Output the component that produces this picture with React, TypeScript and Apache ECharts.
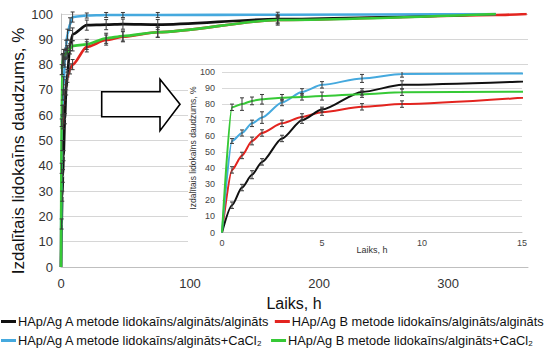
import React, { useEffect, useRef } from "react";
import * as echarts from "echarts";

// ---- data ----
const timesH = [0, 0.5, 1, 1.5, 2, 3, 4, 5, 7, 9, 20, 35, 48, 75, 168, 337];
const redExtraTime = 361;

const blackVals = [0, 17, 28, 36, 44, 58.6, 70, 76.6, 87.6, 92, 95.6, 95.8, 96, 95.8, 98, 100];
const blackErr = [0, 2, 2, 2.5, 2, 2, 2, 1.5, 2, 2.5, 2, 2, 2, 2, 1.5, 0];
const redVals = [0, 39, 48, 57, 62, 68, 72, 75, 78.3, 80, 87, 89.7, 91, 92.8, 97.6, 99.6, 100];
const redErr = [0, 2, 2, 2.4, 2, 2, 2, 2, 2, 2, 2, 2, 2, 2, 1.5, 0, 0];
const blueVals = [0, 57, 62, 68, 71.6, 81, 87.6, 92, 96, 98.8, 99.4, 99.6, 99.6, 99.6, 99.7, 100];
const blueErr = [0, 1.5, 1.9, 2, 3.6, 2, 2, 2, 2.5, 2, 1, 1, 1, 1, 1, 0];
const greenVals = [0, 78, 80, 82, 83, 84, 84.5, 85, 86.2, 87.4, 88, 90.4, 91.3, 92.8, 97.6, 100];
const greenErr = [0, 2, 3.9, 2.4, 3, 2, 2, 2.5, 2, 2, 2, 2, 2, 2, 2, 0];

const yTicks = [0, 10, 20, 30, 40, 50, 60, 70, 80, 90, 100];

const names = [
  "HAp/Ag A metode lidokaīns/algināts/algināts",
  "HAp/Ag B metode lidokaīns/algināts/algināts",
  "HAp/Ag A metode lidokaīns/algināts+CaCl₂",
  "HAp/Ag B metode lidokaīns/algināts+CaCl₂",
];
const colors = ["#111111", "#e3241f", "#45a9de", "#36c936"];

const FONT = "Liberation Sans, Arial, sans-serif";

export default function App() {
  const ref = useRef<HTMLDivElement>(null);

  useEffect(() => {
    if (!ref.current) return;
    const chart = echarts.init(ref.current, undefined, { renderer: "svg" });

    const redTimes = [...timesH, redExtraTime];
    const seriesDefs = [
      { name: names[0], t: timesH, v: blackVals, e: blackErr, c: colors[0] },
      { name: names[1], t: redTimes, v: redVals, e: redErr, c: colors[1] },
      { name: names[2], t: timesH, v: blueVals, e: blueErr, c: colors[2] },
      { name: names[3], t: timesH, v: greenVals, e: greenErr, c: colors[3] },
    ];
    const order = [1, 0, 2, 3];

    const errRender = (cap: number) => (params: any, api: any) => {
      const x = api.value(0);
      const lo = api.value(1);
      const hi = api.value(2);
      const p1 = api.coord([x, hi]);
      const p2 = api.coord([x, lo]);
      const st = { stroke: "#3a3a3a", lineWidth: 1 };
      return {
        type: "group",
        children: [
          { type: "line", shape: { x1: p1[0], y1: p1[1], x2: p2[0], y2: p2[1] }, style: st },
          { type: "line", shape: { x1: p1[0] - cap, y1: p1[1], x2: p1[0] + cap, y2: p1[1] }, style: st },
          { type: "line", shape: { x1: p2[0] - cap, y1: p2[1], x2: p2[0] + cap, y2: p2[1] }, style: st },
        ],
      };
    };

    const series: any[] = [];
    order.forEach((i) => {
      const d = seriesDefs[i];
      series.push({
        type: "line",
        name: d.name,
        xAxisIndex: 0,
        yAxisIndex: 0,
        data: d.t.map((t, k) => [t, d.v[k]]),
        smooth: 0.25,
        smoothMonotone: "x",
        symbol: "none",
        lineStyle: { color: d.c, width: 2.6 },
        itemStyle: { color: d.c },
        z: 2,
      });
      series.push({
        type: "custom",
        name: d.name + "-err",
        xAxisIndex: 0,
        yAxisIndex: 0,
        data: d.t
          .map((t, k) => [t, d.v[k] - d.e[k], d.v[k] + d.e[k]])
          .filter((r, k) => d.e[k] > 0),
        renderItem: errRender(2),
        z: 3,
        silent: true,
      });
    });
    order.forEach((i) => {
      const d = seriesDefs[i];
      series.push({
        type: "line",
        name: d.name,
        xAxisIndex: 1,
        yAxisIndex: 1,
        data: d.t.map((t, k) => [t, d.v[k]]),
        smooth: 0.25,
        smoothMonotone: "x",
        symbol: "none",
        clip: true,
        lineStyle: { color: d.c, width: 2 },
        itemStyle: { color: d.c },
        z: 20,
      });
      series.push({
        type: "custom",
        name: d.name + "-ierr",
        xAxisIndex: 1,
        yAxisIndex: 1,
        clip: true,
        data: d.t
          .map((t, k) => [t, d.v[k] - d.e[k], d.v[k] + d.e[k]])
          .filter((r, k) => d.e[k] > 0 && r[0] <= 15),
        renderItem: errRender(2),
        z: 21,
        silent: true,
      });
    });

    const legendText = { fontSize: 12.8, color: "#111", fontFamily: FONT, padding: [0, 0, 0, -3] };

    const option: any = {
      animation: false,
      backgroundColor: "#ffffff",
      textStyle: { fontFamily: FONT },
      grid: [
        { left: 61, right: 20, top: 14, bottom: 82, containLabel: false },
        { left: 222, right: 26, top: 72, bottom: 116.5, containLabel: false },
      ],
      xAxis: [
        {
          type: "value",
          gridIndex: 0,
          min: 0,
          max: 362,
          interval: 100,
          axisLine: { show: true, lineStyle: { color: "#bfbfbf" } },
          axisTick: { show: false },
          splitLine: { show: false },
          axisLabel: {
            showMaxLabel: false,
            fontSize: 13,
            color: "#333",
            margin: 10,
            fontFamily: FONT,
            formatter: (v: number) => (v % 100 === 0 ? String(v) : ""),
          },
          z: 1,
        },
        {
          type: "value",
          gridIndex: 1,
          min: 0,
          max: 15,
          interval: 5,
          axisLine: { show: true, lineStyle: { color: "#c8c8c8" } },
          axisTick: { show: false },
          splitLine: { show: false },
          axisLabel: { fontSize: 9, color: "#444", margin: 6, fontFamily: FONT },
          z: 15,
        },
      ],
      yAxis: [
        {
          type: "value",
          gridIndex: 0,
          min: yTicks[0],
          max: yTicks[yTicks.length - 1],
          interval: 10,
          axisLine: { show: true, lineStyle: { color: "#bfbfbf" } },
          axisTick: { show: false },
          splitLine: { show: true, lineStyle: { color: "#d6d6d6", width: 1 } },
          axisLabel: { fontSize: 13, color: "#333", margin: 8, fontFamily: FONT },
          z: 1,
        },
        {
          type: "value",
          gridIndex: 1,
          min: yTicks[0],
          max: yTicks[yTicks.length - 1],
          interval: 10,
          axisLine: { show: false },
          axisTick: { show: false },
          splitLine: { show: true, lineStyle: { color: "#d9d9d9", width: 1 } },
          axisLabel: { fontSize: 9, color: "#444", margin: 7, fontFamily: FONT },
          z: 15,
        },
      ],
      legend: [
        {
          data: [names[0], names[1]],
          left: 1,
          top: 315,
          itemGap: 5,
          itemWidth: 15,
          itemHeight: 3,
          icon: "rect",
          textStyle: legendText,
          padding: 0,
        },
        {
          data: [names[2], names[3]],
          left: 1,
          top: 334,
          itemGap: 8,
          itemWidth: 15,
          itemHeight: 3,
          icon: "rect",
          textStyle: legendText,
          padding: 0,
        },
      ],
      graphic: [
        {
          type: "rect",
          shape: { x: 188, y: 65, width: 360, height: 193 },
          style: { fill: "#ffffff" },
          z: 10,
          silent: true,
        },
        {
          type: "polygon",
          shape: {
            points: [
              [101.7, 91.7],
              [160, 91.7],
              [160, 79.3],
              [180, 104.3],
              [160, 130.7],
              [160, 116.7],
              [101.7, 116.7],
            ],
          },
          style: { fill: "#ffffff", stroke: "#000000", lineWidth: 1.6 },
          z: 12,
        },
        {
          type: "text",
          x: 18,
          y: 151,
          rotation: Math.PI / 2,
          style: {
            text: "Izdalītais lidokaīns daudzums, %",
            fontSize: 17,
            fontFamily: FONT,
            fill: "#111",
            align: "center",
            verticalAlign: "middle",
          },
          z: 12,
        },
        {
          type: "text",
          x: 294,
          y: 303,
          style: {
            text: "Laiks, h",
            fontSize: 16,
            fontFamily: FONT,
            fill: "#111",
            align: "center",
            verticalAlign: "middle",
          },
          z: 12,
        },
        {
          type: "text",
          x: 193,
          y: 148,
          rotation: Math.PI / 2,
          style: {
            text: "Izdalītais lidokaīns daudzums, %",
            fontSize: 8.5,
            fontFamily: FONT,
            fill: "#333",
            align: "center",
            verticalAlign: "middle",
          },
          z: 16,
        },
        {
          type: "text",
          x: 372,
          y: 250,
          style: {
            text: "Laiks, h",
            fontSize: 9,
            fontFamily: FONT,
            fill: "#333",
            align: "center",
            verticalAlign: "middle",
          },
          z: 16,
        },
      ],
      series,
    };

    chart.setOption(option);
    return () => chart.dispose();
  }, []);

  return (
    <div
      ref={ref}
      style={{ position: "fixed", left: 0, top: 0, width: 548, height: 349 }}
    />
  );
}
